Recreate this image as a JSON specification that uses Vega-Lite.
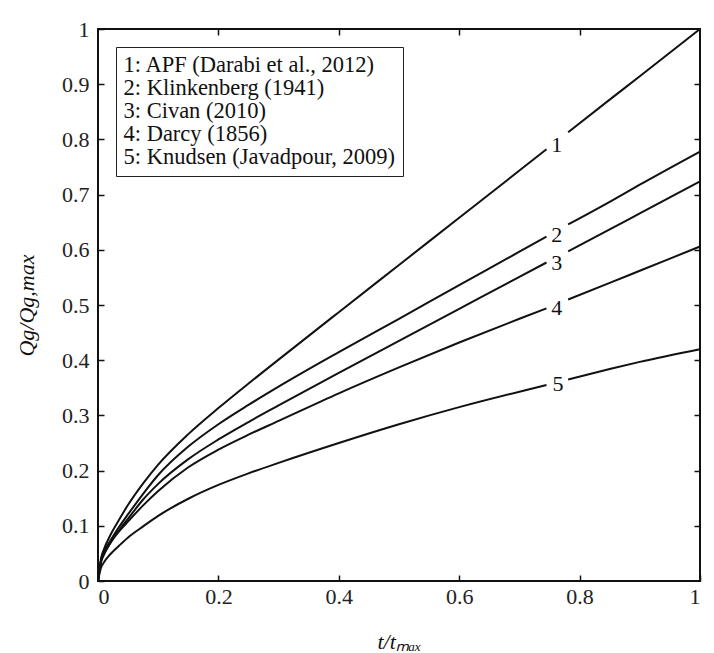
{
  "$schema": "https://vega.github.io/schema/vega-lite/v6.json",
  "width": 602,
  "height": 552,
  "autosize": {"type": "none"},
  "padding": {"left": 98, "top": 29, "right": 14, "bottom": 72},
  "background": "white",
  "config": {
    "font": "Liberation Serif",
    "view": {"stroke": "#111", "strokeWidth": 2},
    "axis": {"grid": false, "domain": false, "tickColor": "#111", "tickWidth": 1.5, "tickSize": -6, "labelFont": "Liberation Serif", "labelFontSize": 22, "labelColor": "#222", "titleFont": "Liberation Serif", "titleFontSize": 22, "titleFontWeight": "normal", "titleColor": "#111"}
  },
  "datasets": {
    "curves": [
      {"curve": "1: APF (Darabi et al., 2012)", "seg": "a", "t": 0, "q": 0},
      {"curve": "1: APF (Darabi et al., 2012)", "seg": "a", "t": 0.005, "q": 0.041},
      {"curve": "1: APF (Darabi et al., 2012)", "seg": "a", "t": 0.01, "q": 0.058},
      {"curve": "1: APF (Darabi et al., 2012)", "seg": "a", "t": 0.02, "q": 0.082},
      {"curve": "1: APF (Darabi et al., 2012)", "seg": "a", "t": 0.035, "q": 0.111},
      {"curve": "1: APF (Darabi et al., 2012)", "seg": "a", "t": 0.05, "q": 0.138},
      {"curve": "1: APF (Darabi et al., 2012)", "seg": "a", "t": 0.075, "q": 0.1768},
      {"curve": "1: APF (Darabi et al., 2012)", "seg": "a", "t": 0.1, "q": 0.2109},
      {"curve": "1: APF (Darabi et al., 2012)", "seg": "a", "t": 0.15, "q": 0.2661},
      {"curve": "1: APF (Darabi et al., 2012)", "seg": "a", "t": 0.2, "q": 0.3133},
      {"curve": "1: APF (Darabi et al., 2012)", "seg": "a", "t": 0.25, "q": 0.3578},
      {"curve": "1: APF (Darabi et al., 2012)", "seg": "a", "t": 0.3, "q": 0.4011},
      {"curve": "1: APF (Darabi et al., 2012)", "seg": "a", "t": 0.4, "q": 0.487},
      {"curve": "1: APF (Darabi et al., 2012)", "seg": "a", "t": 0.5, "q": 0.5725},
      {"curve": "1: APF (Darabi et al., 2012)", "seg": "a", "t": 0.6, "q": 0.658},
      {"curve": "1: APF (Darabi et al., 2012)", "seg": "a", "t": 0.7, "q": 0.7435},
      {"curve": "1: APF (Darabi et al., 2012)", "seg": "a", "t": 0.745, "q": 0.782},
      {"curve": "1: APF (Darabi et al., 2012)", "seg": "b", "t": 0.781, "q": 0.813},
      {"curve": "1: APF (Darabi et al., 2012)", "seg": "b", "t": 0.85, "q": 0.872},
      {"curve": "1: APF (Darabi et al., 2012)", "seg": "b", "t": 0.9, "q": 0.9145},
      {"curve": "1: APF (Darabi et al., 2012)", "seg": "b", "t": 1.0, "q": 1.0},

      {"curve": "2: Klinkenberg (1941)", "seg": "a", "t": 0, "q": 0},
      {"curve": "2: Klinkenberg (1941)", "seg": "a", "t": 0.005, "q": 0.037},
      {"curve": "2: Klinkenberg (1941)", "seg": "a", "t": 0.01, "q": 0.053},
      {"curve": "2: Klinkenberg (1941)", "seg": "a", "t": 0.02, "q": 0.072},
      {"curve": "2: Klinkenberg (1941)", "seg": "a", "t": 0.035, "q": 0.098},
      {"curve": "2: Klinkenberg (1941)", "seg": "a", "t": 0.05, "q": 0.121},
      {"curve": "2: Klinkenberg (1941)", "seg": "a", "t": 0.075, "q": 0.158},
      {"curve": "2: Klinkenberg (1941)", "seg": "a", "t": 0.1, "q": 0.192},
      {"curve": "2: Klinkenberg (1941)", "seg": "a", "t": 0.15, "q": 0.2435},
      {"curve": "2: Klinkenberg (1941)", "seg": "a", "t": 0.2, "q": 0.284},
      {"curve": "2: Klinkenberg (1941)", "seg": "a", "t": 0.25, "q": 0.319},
      {"curve": "2: Klinkenberg (1941)", "seg": "a", "t": 0.3, "q": 0.352},
      {"curve": "2: Klinkenberg (1941)", "seg": "a", "t": 0.4, "q": 0.4145},
      {"curve": "2: Klinkenberg (1941)", "seg": "a", "t": 0.5, "q": 0.475},
      {"curve": "2: Klinkenberg (1941)", "seg": "a", "t": 0.6, "q": 0.536},
      {"curve": "2: Klinkenberg (1941)", "seg": "a", "t": 0.7, "q": 0.5965},
      {"curve": "2: Klinkenberg (1941)", "seg": "a", "t": 0.745, "q": 0.624},
      {"curve": "2: Klinkenberg (1941)", "seg": "b", "t": 0.781, "q": 0.646},
      {"curve": "2: Klinkenberg (1941)", "seg": "b", "t": 0.85, "q": 0.687},
      {"curve": "2: Klinkenberg (1941)", "seg": "b", "t": 0.9, "q": 0.718},
      {"curve": "2: Klinkenberg (1941)", "seg": "b", "t": 1.0, "q": 0.778},

      {"curve": "3: Civan (2010)", "seg": "a", "t": 0, "q": 0},
      {"curve": "3: Civan (2010)", "seg": "a", "t": 0.005, "q": 0.035},
      {"curve": "3: Civan (2010)", "seg": "a", "t": 0.01, "q": 0.049},
      {"curve": "3: Civan (2010)", "seg": "a", "t": 0.02, "q": 0.068},
      {"curve": "3: Civan (2010)", "seg": "a", "t": 0.035, "q": 0.092},
      {"curve": "3: Civan (2010)", "seg": "a", "t": 0.05, "q": 0.113},
      {"curve": "3: Civan (2010)", "seg": "a", "t": 0.075, "q": 0.1476},
      {"curve": "3: Civan (2010)", "seg": "a", "t": 0.1, "q": 0.176},
      {"curve": "3: Civan (2010)", "seg": "a", "t": 0.15, "q": 0.2207},
      {"curve": "3: Civan (2010)", "seg": "a", "t": 0.2, "q": 0.2564},
      {"curve": "3: Civan (2010)", "seg": "a", "t": 0.25, "q": 0.288},
      {"curve": "3: Civan (2010)", "seg": "a", "t": 0.3, "q": 0.318},
      {"curve": "3: Civan (2010)", "seg": "a", "t": 0.4, "q": 0.377},
      {"curve": "3: Civan (2010)", "seg": "a", "t": 0.5, "q": 0.435},
      {"curve": "3: Civan (2010)", "seg": "a", "t": 0.6, "q": 0.493},
      {"curve": "3: Civan (2010)", "seg": "a", "t": 0.7, "q": 0.551},
      {"curve": "3: Civan (2010)", "seg": "a", "t": 0.745, "q": 0.577},
      {"curve": "3: Civan (2010)", "seg": "b", "t": 0.781, "q": 0.597},
      {"curve": "3: Civan (2010)", "seg": "b", "t": 0.85, "q": 0.637},
      {"curve": "3: Civan (2010)", "seg": "b", "t": 0.9, "q": 0.666},
      {"curve": "3: Civan (2010)", "seg": "b", "t": 1.0, "q": 0.724},

      {"curve": "4: Darcy (1856)", "seg": "a", "t": 0, "q": 0},
      {"curve": "4: Darcy (1856)", "seg": "a", "t": 0.005, "q": 0.034},
      {"curve": "4: Darcy (1856)", "seg": "a", "t": 0.01, "q": 0.048},
      {"curve": "4: Darcy (1856)", "seg": "a", "t": 0.02, "q": 0.068},
      {"curve": "4: Darcy (1856)", "seg": "a", "t": 0.035, "q": 0.09},
      {"curve": "4: Darcy (1856)", "seg": "a", "t": 0.05, "q": 0.108},
      {"curve": "4: Darcy (1856)", "seg": "a", "t": 0.075, "q": 0.137},
      {"curve": "4: Darcy (1856)", "seg": "a", "t": 0.1, "q": 0.163},
      {"curve": "4: Darcy (1856)", "seg": "a", "t": 0.15, "q": 0.206},
      {"curve": "4: Darcy (1856)", "seg": "a", "t": 0.2, "q": 0.238},
      {"curve": "4: Darcy (1856)", "seg": "a", "t": 0.25, "q": 0.265},
      {"curve": "4: Darcy (1856)", "seg": "a", "t": 0.3, "q": 0.29},
      {"curve": "4: Darcy (1856)", "seg": "a", "t": 0.4, "q": 0.34},
      {"curve": "4: Darcy (1856)", "seg": "a", "t": 0.5, "q": 0.387},
      {"curve": "4: Darcy (1856)", "seg": "a", "t": 0.6, "q": 0.432},
      {"curve": "4: Darcy (1856)", "seg": "a", "t": 0.7, "q": 0.475},
      {"curve": "4: Darcy (1856)", "seg": "a", "t": 0.745, "q": 0.494},
      {"curve": "4: Darcy (1856)", "seg": "b", "t": 0.781, "q": 0.51},
      {"curve": "4: Darcy (1856)", "seg": "b", "t": 0.85, "q": 0.54},
      {"curve": "4: Darcy (1856)", "seg": "b", "t": 0.9, "q": 0.562},
      {"curve": "4: Darcy (1856)", "seg": "b", "t": 1.0, "q": 0.606},

      {"curve": "5: Knudsen (Javadpour, 2009)", "seg": "a", "t": 0, "q": 0},
      {"curve": "5: Knudsen (Javadpour, 2009)", "seg": "a", "t": 0.005, "q": 0.024},
      {"curve": "5: Knudsen (Javadpour, 2009)", "seg": "a", "t": 0.01, "q": 0.034},
      {"curve": "5: Knudsen (Javadpour, 2009)", "seg": "a", "t": 0.02, "q": 0.048},
      {"curve": "5: Knudsen (Javadpour, 2009)", "seg": "a", "t": 0.035, "q": 0.064},
      {"curve": "5: Knudsen (Javadpour, 2009)", "seg": "a", "t": 0.05, "q": 0.079},
      {"curve": "5: Knudsen (Javadpour, 2009)", "seg": "a", "t": 0.075, "q": 0.099},
      {"curve": "5: Knudsen (Javadpour, 2009)", "seg": "a", "t": 0.1, "q": 0.118},
      {"curve": "5: Knudsen (Javadpour, 2009)", "seg": "a", "t": 0.15, "q": 0.149},
      {"curve": "5: Knudsen (Javadpour, 2009)", "seg": "a", "t": 0.2, "q": 0.174},
      {"curve": "5: Knudsen (Javadpour, 2009)", "seg": "a", "t": 0.25, "q": 0.195},
      {"curve": "5: Knudsen (Javadpour, 2009)", "seg": "a", "t": 0.3, "q": 0.214},
      {"curve": "5: Knudsen (Javadpour, 2009)", "seg": "a", "t": 0.4, "q": 0.25},
      {"curve": "5: Knudsen (Javadpour, 2009)", "seg": "a", "t": 0.5, "q": 0.284},
      {"curve": "5: Knudsen (Javadpour, 2009)", "seg": "a", "t": 0.6, "q": 0.315},
      {"curve": "5: Knudsen (Javadpour, 2009)", "seg": "a", "t": 0.7, "q": 0.343},
      {"curve": "5: Knudsen (Javadpour, 2009)", "seg": "a", "t": 0.745, "q": 0.355},
      {"curve": "5: Knudsen (Javadpour, 2009)", "seg": "b", "t": 0.781, "q": 0.365},
      {"curve": "5: Knudsen (Javadpour, 2009)", "seg": "b", "t": 0.85, "q": 0.384},
      {"curve": "5: Knudsen (Javadpour, 2009)", "seg": "b", "t": 0.9, "q": 0.397},
      {"curve": "5: Knudsen (Javadpour, 2009)", "seg": "b", "t": 1.0, "q": 0.42}
    ],
    "curvelabels": [
      {"lab": "1", "t": 0.762, "q": 0.79},
      {"lab": "2", "t": 0.762, "q": 0.627},
      {"lab": "3", "t": 0.762, "q": 0.576},
      {"lab": "4", "t": 0.762, "q": 0.495},
      {"lab": "5", "t": 0.764, "q": 0.357}
    ]
  },
  "layer": [
    {
      "data": {"name": "curves"},
      "mark": {"type": "line", "strokeWidth": 2, "interpolate": "monotone"},
      "encoding": {
        "x": {"field": "t", "type": "quantitative", "scale": {"domain": [0, 1], "nice": false}, "axis": {"orient": "bottom", "values": [0, 0.2, 0.4, 0.6, 0.8, 1], "format": "~g", "labelPadding": 11, "title": "t/tₘₐₓ", "titleFontStyle": "italic", "titlePadding": 24}},
        "y": {"field": "q", "type": "quantitative", "scale": {"domain": [0, 1], "nice": false}, "axis": {"orient": "left", "values": [0, 0.1, 0.2, 0.3, 0.4, 0.5, 0.6, 0.7, 0.8, 0.9, 1], "format": "~g", "labelPadding": 15, "title": "Qg/Qg,max", "titleFontStyle": "italic", "titlePadding": 23}},
        "stroke": {"field": "curve", "type": "nominal", "scale": {"range": ["#111"]},
          "legend": {"orient": "top-left", "offset": 18, "title": null, "strokeColor": "#222", "fillColor": "white", "padding": 7, "symbolType": "circle", "symbolSize": 1, "symbolStrokeWidth": 0, "symbolOpacity": 0, "labelOffset": -22, "labelFont": "Liberation Serif", "labelFontSize": 22.5, "labelColor": "#111", "labelLimit": 400, "rowPadding": -1}},
        "detail": {"field": "seg", "type": "nominal"}
      }
    },
    {
      "data": {"name": "curvelabels"},
      "mark": {"type": "text", "font": "Liberation Serif", "fontSize": 22, "color": "#111", "align": "center", "baseline": "middle"},
      "encoding": {
        "x": {"field": "t", "type": "quantitative", "axis": {"orient": "top", "values": [0.2, 0.4, 0.6, 0.8], "labels": false, "title": null}},
        "y": {"field": "q", "type": "quantitative", "axis": {"orient": "right", "values": [0.1, 0.2, 0.3, 0.4, 0.5, 0.6, 0.7, 0.8, 0.9], "labels": false, "title": null}},
        "text": {"field": "lab", "type": "nominal"}
      }
    }
  ],
  "resolve": {"axis": {"x": "independent", "y": "independent"}}
}
